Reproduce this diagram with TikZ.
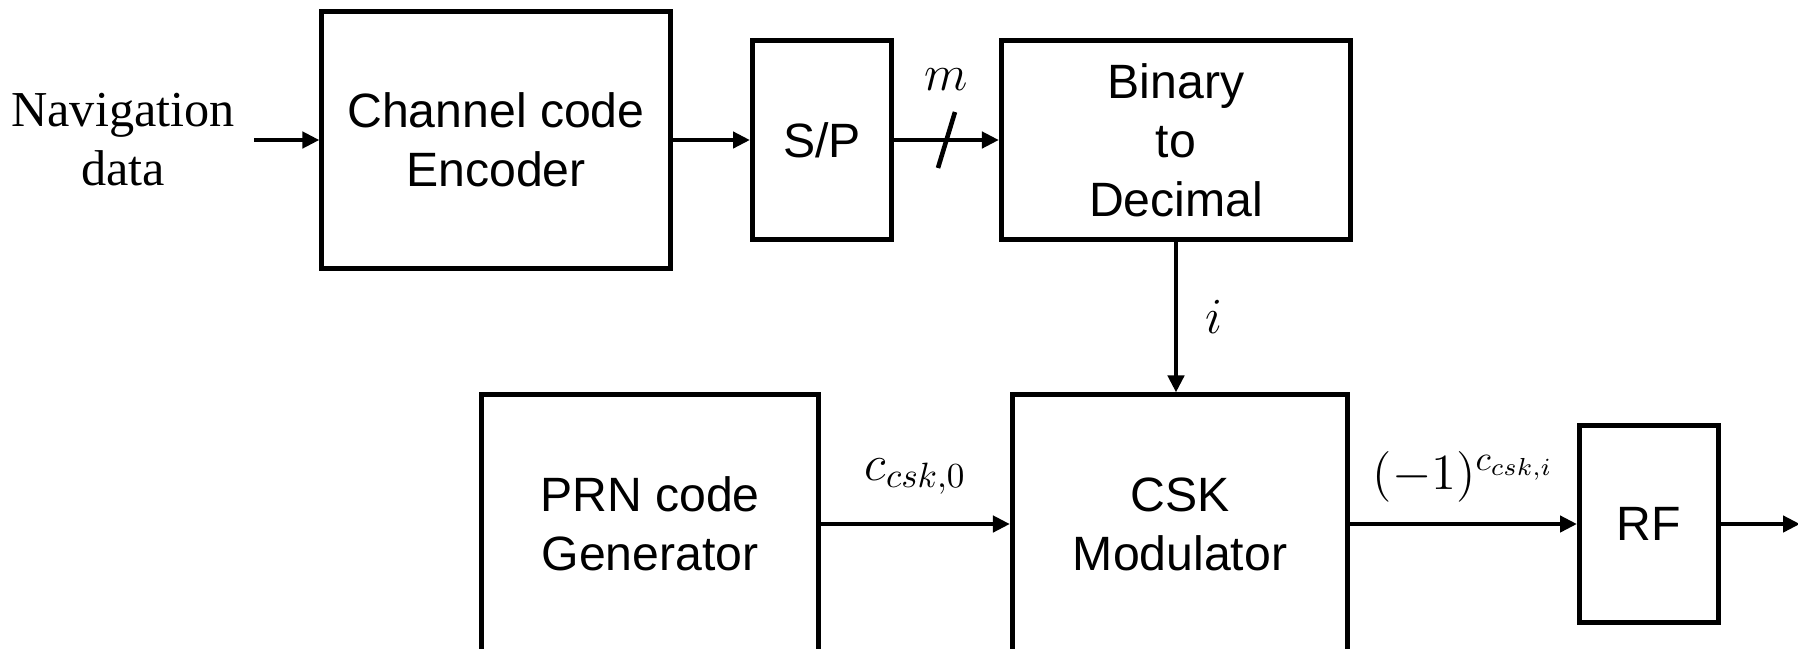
\documentclass[tikz,border=0pt]{standalone}
\usepackage{amsmath,amssymb}
\usepackage{fontspec}
\setmainfont{Liberation Serif}
\setsansfont{Liberation Sans}
\usepackage{tikz}
\usetikzlibrary{arrows.meta,positioning,calc}

\begin{document}
\begin{tikzpicture}[x=0.01cm, y=-0.01cm,
    block/.style={draw, line width=1.4pt, inner sep=0pt, align=center,
        font=\sffamily\fontsize{13.7}{16.8}\selectfont},
    sig/.style={-{Triangle[length=0.17cm,width=0.16cm]}, line width=1.3pt},
    lbl/.style={inner sep=0pt, font=\fontsize{14.8}{17}\selectfont}]
    \useasboundingbox (0,0) rectangle (1798,648);

    % Top row
    \node[align=center, font=\fontsize{14.3}{16.8}\selectfont] (nav) at (123,140) {Navigation\\data};
    \coordinate (navout) at (254,140);
    \node[block, minimum width=3.48cm, minimum height=2.56cm] (enc) at (496,140) {Channel code\\Encoder};
    \node[block, minimum width=1.39cm, minimum height=1.98cm] (sp) at (822,140) {S/P};
    \node[block, minimum width=3.49cm, minimum height=1.98cm] (b2d) at (1176,140) {Binary\\to\\Decimal};

    % Bottom row
    \node[block, minimum width=3.37cm, minimum height=2.58cm] (prn) at (650,524) {PRN code\\Generator};
    \node[block, minimum width=3.35cm, minimum height=2.58cm] (csk) at (1180,524) {CSK\\Modulator};
    \node[block, minimum width=1.39cm, minimum height=1.96cm] (rf) at (1649,524) {RF};
    \coordinate (out) at (1800,524);

    % Arrows
    \draw[sig] (navout) -- (enc);
    \draw[sig] (enc) -- (sp);
    \draw[sig] (sp) -- (b2d) coordinate[midway] (mk)
        node[lbl, midway, above=0.47cm] {$m$};
    \draw[line width=1.3pt] ($(mk)+(-8.5,28)$) -- ($(mk)+(8.5,-28)$);
    \draw[sig] (b2d.south) -- (b2d.south |- csk.north)
        node[lbl, midway, right=0.27cm] {$i$};
    \draw[sig] (prn) -- (csk) node[lbl, midway, above=0.27cm] {$c_{csk,0}$};
    \draw[sig] (csk) -- (rf) node[lbl, midway, above=0.2cm] {$(-1)^{c_{csk,i}}$};
    \draw[sig] (rf) -- (out);
\end{tikzpicture}
\end{document}
